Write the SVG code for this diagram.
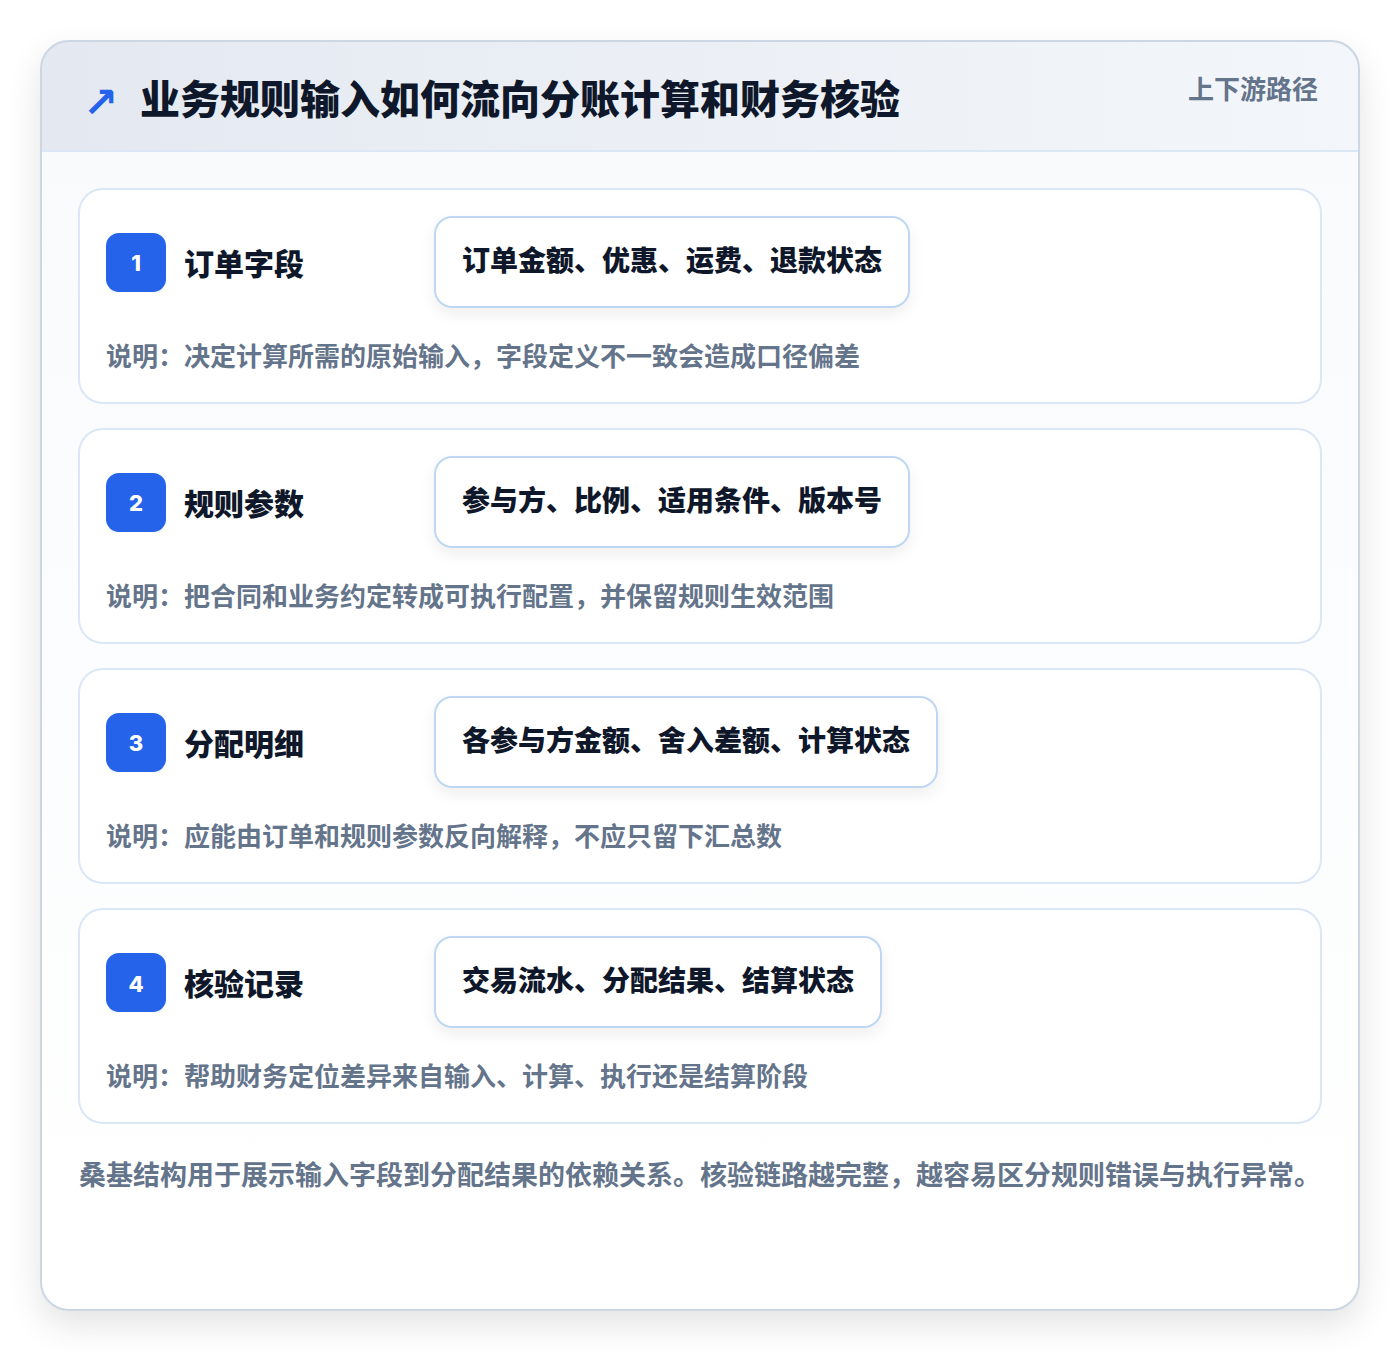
<svg xmlns="http://www.w3.org/2000/svg" width="1400" height="1352" viewBox="0 0 1400 1352">
<defs>
<style>
text{font-family:"Noto Sans CJK SC","Noto Sans",sans-serif;font-weight:700}
.ttl{font-size:40px;fill:#0f172a;font-weight:900}
.sub{font-size:26px;fill:#64748b}
.card{fill:#ffffff;stroke:#dbe7f7;stroke-width:2}
.badge{fill:#2563eb}
.num{font-family:"Inter","Liberation Sans",sans-serif;font-size:22px;font-weight:800;fill:#ffffff;text-anchor:middle}
.name{font-size:30px;fill:#0f172a;font-weight:900}
.pill{fill:#ffffff;stroke:#bfd7f3;stroke-width:2}
.ptxt{font-size:28px;fill:#0f172a;font-weight:900}
.desc{font-size:26px;fill:#64748b}
.foot{font-size:27px;fill:#64748b}
</style>
<linearGradient id="hdr" x1="0" y1="0" x2="1" y2="0">
<stop offset="0" stop-color="#e4e9f1"/>
<stop offset="1" stop-color="#f3f6fa"/>
</linearGradient>
<linearGradient id="body" x1="0" y1="0" x2="0" y2="1">
<stop offset="0" stop-color="#f8fafc"/>
<stop offset="1" stop-color="#ffffff"/>
</linearGradient>
<filter id="shadow" x="-10%" y="-10%" width="120%" height="125%">
<feGaussianBlur in="SourceAlpha" stdDeviation="18"/>
<feOffset dy="14" result="b"/>
<feComponentTransfer><feFuncA type="linear" slope="0.12"/></feComponentTransfer>
<feMerge><feMergeNode/><feMergeNode in="SourceGraphic"/></feMerge>
</filter>
<filter id="pshadow" x="-10%" y="-30%" width="120%" height="170%">
<feGaussianBlur in="SourceAlpha" stdDeviation="8"/>
<feOffset dy="6"/>
<feComponentTransfer><feFuncA type="linear" slope="0.07"/></feComponentTransfer>
<feMerge><feMergeNode/><feMergeNode in="SourceGraphic"/></feMerge>
</filter>
<clipPath id="outerClip"><rect x="41" y="41" width="1318" height="1269" rx="28"/></clipPath>
</defs>
<rect width="1400" height="1352" fill="#ffffff"/>
<g id="frame">
<rect x="41" y="41" width="1318" height="1269" rx="28" fill="url(#body)" filter="url(#shadow)"/>
<rect x="41" y="41" width="1318" height="110" fill="url(#hdr)" clip-path="url(#outerClip)"/>
<line x1="41" y1="151" x2="1359" y2="151" stroke="#dbe7f5" stroke-width="2"/>
<rect x="41" y="41" width="1318" height="1269" rx="28" fill="none" stroke="#cdd6e3" stroke-width="2"/>
</g>
<g id="header">
<text x="83" y="117" style="font-family:'DejaVu Sans',sans-serif;font-size:42px;font-weight:700" fill="#2563eb">↗</text>
<text class="ttl" x="140" y="114">业务规则输入如何流向分账计算和财务核验</text>
<text class="sub" x="1318" y="99" text-anchor="end">上下游路径</text>
</g>
<g id="node1">
<rect class="card" x="79" y="189" width="1242" height="214" rx="24"/>
<rect class="badge" x="106" y="233" width="60" height="59" rx="13"/>
<text class="num" x="136" y="271">1</text>
<text class="name" x="184" y="275">订单字段</text>
<rect class="pill" x="435" y="217" width="474" height="90" rx="17" filter="url(#pshadow)"/>
<text class="ptxt" x="462" y="271">订单金额、优惠、运费、退款状态</text>
<text class="desc" x="106" y="366">说明：决定计算所需的原始输入，字段定义不一致会造成口径偏差</text>
</g>
<g id="node2">
<rect class="card" x="79" y="429" width="1242" height="214" rx="24"/>
<rect class="badge" x="106" y="473" width="60" height="59" rx="13"/>
<text class="num" x="136" y="511">2</text>
<text class="name" x="184" y="515">规则参数</text>
<rect class="pill" x="435" y="457" width="474" height="90" rx="17" filter="url(#pshadow)"/>
<text class="ptxt" x="462" y="511">参与方、比例、适用条件、版本号</text>
<text class="desc" x="106" y="606">说明：把合同和业务约定转成可执行配置，并保留规则生效范围</text>
</g>
<g id="node3">
<rect class="card" x="79" y="669" width="1242" height="214" rx="24"/>
<rect class="badge" x="106" y="713" width="60" height="59" rx="13"/>
<text class="num" x="136" y="751">3</text>
<text class="name" x="184" y="755">分配明细</text>
<rect class="pill" x="435" y="697" width="502" height="90" rx="17" filter="url(#pshadow)"/>
<text class="ptxt" x="462" y="751">各参与方金额、舍入差额、计算状态</text>
<text class="desc" x="106" y="846">说明：应能由订单和规则参数反向解释，不应只留下汇总数</text>
</g>
<g id="node4">
<rect class="card" x="79" y="909" width="1242" height="214" rx="24"/>
<rect class="badge" x="106" y="953" width="60" height="59" rx="13"/>
<text class="num" x="136" y="992">4</text>
<text class="name" x="184" y="995">核验记录</text>
<rect class="pill" x="435" y="937" width="446" height="90" rx="17" filter="url(#pshadow)"/>
<text class="ptxt" x="462" y="991">交易流水、分配结果、结算状态</text>
<text class="desc" x="106" y="1086">说明：帮助财务定位差异来自输入、计算、执行还是结算阶段</text>
</g>
<g id="connectors"></g>
<g id="footer">
<text class="foot" x="79" y="1185">桑基结构用于展示输入字段到分配结果的依赖关系。核验链路越完整，越容易区分规则错误与执行异常。</text>
</g>
</svg>
